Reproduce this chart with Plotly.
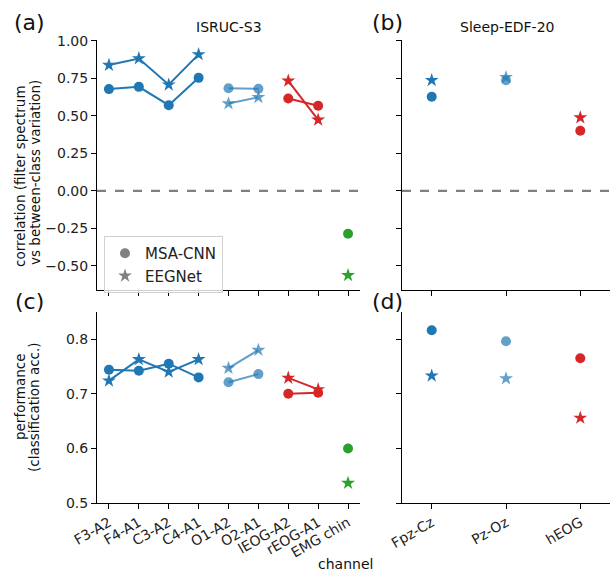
import plotly.graph_objects as go

# ---------------- data ----------------
isruc_channels = ["F3-A2", "F4-A1", "C3-A2", "C4-A1", "O1-A2", "O2-A1", "lEOG-A2", "rEOG-A1", "EMG chin"]
edf_channels = ["Fpz-Cz", "Pz-Oz", "hEOG"]

# channel groups (indices into channel lists) and group colours
isruc_groups = [[0, 1, 2, 3], [4, 5], [6, 7], [8]]
edf_groups = [[0], [1], [2]]
group_colors_isruc = ["#1f77b4", "rgba(31,119,180,0.7)", "#d62728", "#2ca02c"]
group_colors_edf = ["#1f77b4", "rgba(31,119,180,0.7)", "#d62728"]

# correlation (filter spectrum vs between-class variation)
corr_isruc_msa = [0.678, 0.693, 0.571, 0.753, 0.684, 0.680, 0.615, 0.567, -0.285]
corr_isruc_eeg = [0.838, 0.882, 0.707, 0.909, 0.582, 0.624, 0.733, 0.473, -0.562]
corr_edf_msa = [0.627, 0.737, 0.401]
corr_edf_eeg = [0.737, 0.757, 0.488]

# performance (classification acc.)
perf_isruc_msa = [0.744, 0.742, 0.755, 0.730, 0.721, 0.736, 0.700, 0.702, 0.600]
perf_isruc_eeg = [0.724, 0.763, 0.740, 0.763, 0.747, 0.780, 0.729, 0.708, 0.537]
perf_edf_msa = [0.816, 0.796, 0.765]
perf_edf_eeg = [0.733, 0.728, 0.656]

corr_ticks = [-0.5, -0.25, 0.0, 0.25, 0.5, 0.75, 1.0]
corr_ticklabels = ["\u22120.50", "\u22120.25", "0.00", "0.25", "0.50", "0.75", "1.00"]
perf_ticks = [0.5, 0.6, 0.7, 0.8]

# ---------------- figure ----------------
W, H = 610, 571
FONT = "DejaVu Sans"
fig = go.Figure()

def px_x(p):
    return p / W

def px_y(p):
    return 1 - p / H

dom_left = [px_x(97), px_x(360)]
dom_right = [px_x(402), 1.0]
dom_top = [px_y(290), px_y(40)]
dom_bot = [px_y(503.3), px_y(311.7)]

CIRC, STAR = 10, 10.5

def add_panel(channels, groups, colors, msa, eeg, xa, ya, lines):
    for g, col in zip(groups, colors):
        xs = [channels[i] for i in g]
        for vals, sym, size in ((msa, "circle", CIRC), (eeg, "star", STAR)):
            ys = [vals[i] for i in g]
            fig.add_trace(go.Scatter(
                x=xs, y=ys, xaxis=xa, yaxis=ya,
                mode="lines+markers" if (lines and len(g) > 1) else "markers",
                line=dict(color=col, width=2),
                marker=dict(symbol=sym, size=size, color=col, line=dict(width=0)),
                showlegend=False, hoverinfo="skip"))

add_panel(isruc_channels, isruc_groups, group_colors_isruc, corr_isruc_msa, corr_isruc_eeg, "x", "y", True)
add_panel(edf_channels, edf_groups, group_colors_edf, corr_edf_msa, corr_edf_eeg, "x2", "y2", False)
add_panel(isruc_channels, isruc_groups, group_colors_isruc, perf_isruc_msa, perf_isruc_eeg, "x3", "y3", True)
add_panel(edf_channels, edf_groups, group_colors_edf, perf_edf_msa, perf_edf_eeg, "x4", "y4", False)

# legend entries
fig.add_trace(go.Scatter(x=[None], y=[None], mode="markers", name="MSA-CNN",
                         marker=dict(symbol="circle", size=CIRC, color="gray")))
fig.add_trace(go.Scatter(x=[None], y=[None], mode="markers", name="EEGNet",
                         marker=dict(symbol="star", size=STAR, color="gray")))

ax_common = dict(showline=True, linecolor="black", linewidth=1, ticks="outside", ticklen=5,
                 tickwidth=1, tickcolor="black", showgrid=False, zeroline=False,
                 automargin=False,
                 tickfont=dict(family=FONT, size=14, color="#222"))

fig.update_layout(
    width=W, height=H, margin=dict(l=0, r=0, t=0, b=0, autoexpand=False),
    plot_bgcolor="white", paper_bgcolor="white",
    font=dict(family=FONT, color="#222"),
    xaxis=dict(domain=dom_left, anchor="y", type="category", categoryarray=isruc_channels,
               range=[-0.4, 8.4], showticklabels=False, **ax_common),
    yaxis=dict(domain=dom_top, anchor="x", range=[-0.66, 1.005], tickvals=corr_ticks,
               ticktext=corr_ticklabels, **ax_common),
    xaxis2=dict(domain=dom_right, anchor="y2", type="category", categoryarray=edf_channels,
                range=[-0.4, 2.4], showticklabels=False, **ax_common),
    yaxis2=dict(domain=dom_top, anchor="x2", range=[-0.66, 1.005], tickvals=corr_ticks,
                showticklabels=False, **ax_common),
    xaxis3=dict(domain=dom_left, anchor="y3", type="category", categoryarray=isruc_channels,
                range=[-0.4, 8.4], tickangle=-30, **ax_common),
    yaxis3=dict(domain=dom_bot, anchor="x3", range=[0.5, 0.85], tickvals=perf_ticks,
                tickformat=".1f", **ax_common),
    xaxis4=dict(domain=dom_right, anchor="y4", type="category", categoryarray=edf_channels,
                range=[-0.4, 2.4], tickangle=-30, **ax_common),
    yaxis4=dict(domain=dom_bot, anchor="x4", range=[0.5, 0.85], tickvals=perf_ticks,
                showticklabels=False, **ax_common),
    legend=dict(x=px_x(104), y=px_y(236), xanchor="left", yanchor="top",
                bgcolor="rgba(255,255,255,0.8)", bordercolor="#d0d0d0", borderwidth=1,
                font=dict(family=FONT, size=15, color="#222"), itemwidth=30,
                tracegroupgap=0),
)

# dashed zero lines
for xa, ya in (("x", "y"), ("x2", "y2")):
    fig.add_shape(type="line", xref=f"{xa} domain", yref=ya, x0=0, x1=1, y0=0, y1=0,
                  line=dict(color="gray", width=2.2, dash="dash"), layer="below")

def ann(text, x, y, size, angle=0, xanchor="center", yanchor="middle"):
    fig.add_annotation(text=text, x=px_x(x), y=px_y(y), xref="paper", yref="paper",
                       showarrow=False, textangle=angle, xanchor=xanchor, yanchor=yanchor,
                       font=dict(family=FONT, size=size, color="#111"))

# panel letters
ann("(a)", 29, 23, 22)
ann("(b)", 387, 23, 22)
ann("(c)", 29, 301, 22)
ann("(d)", 387, 301, 22)
# titles
ann("ISRUC-S3", 229, 27, 14)
ann("Sleep-EDF-20", 507, 27, 14)
# y labels
ann("correlation (filter spectrum", 20, 176, 13.5, angle=-90)
ann("vs between-class variation)", 35, 173, 13.5, angle=-90)
ann("performance", 20, 397, 13.5, angle=-90)
ann("(classification acc.)", 34, 407, 13.5, angle=-90)
# x label
ann("channel", 345, 564, 14)

fig.write_html("out.html", config={"displayModeBar": False},
               post_script="document.body.style.margin='0';document.body.style.padding='0';")
